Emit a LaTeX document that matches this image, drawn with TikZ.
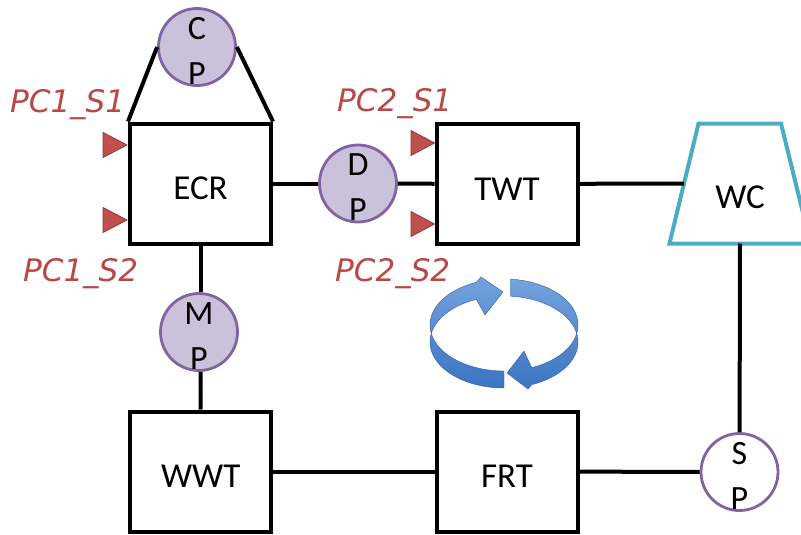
\documentclass[tikz,border=0pt]{standalone}
\usepackage{fontspec}
\setmainfont{Carlito}
\newfontfamily\tagfont{DejaVu Sans}

\definecolor{pumpfill}{HTML}{CCC1DA}
\definecolor{pumpline}{HTML}{8064A2}
\definecolor{sensorred}{HTML}{C0504D}
\definecolor{sensordark}{HTML}{943634}
\definecolor{tagred}{HTML}{B84745}
\definecolor{basin}{HTML}{4BACC6}
\definecolor{cyclelight}{HTML}{74A3DE}
\definecolor{cycledark}{HTML}{3C74C2}

\begin{document}
\begin{tikzpicture}[x=1pt,y=-1pt,
  tank/.style={draw, line width=4pt, minimum width=141pt, minimum height=120pt,
    inner sep=0pt, font=\fontsize{35}{40}\selectfont, text height=32pt, text depth=0pt},
  pump/.style={circle, draw=pumpline, fill=pumpfill, line width=2.8pt,
    minimum size=77pt, inner sep=0pt},
  pumplabel/.style={align=center, font=\fontsize{34}{45}\selectfont, inner sep=0pt},
  pipe/.style={line width=4pt},
  sensor/.style={fill=sensorred, draw=sensordark, line width=0.8pt, line join=round},
  tag/.style={text=tagred, font=\tagfont\itshape\fontsize{31}{36}\selectfont,
    anchor=base west, inner sep=0pt},
  consumer/.style={draw=basin, line width=4pt, line join=miter},
  cycle/.style={top color=cyclelight, bottom color=cycledark, draw=cycledark!80!black, line width=0.4pt},
]
\useasboundingbox (0,0) rectangle (801,535);

% tanks
\node[tank] (ecr) at (200.5,183.5) {ECR};
\node[tank] (twt) at (507,184) {TWT};
\node[tank] (wwt) at (200.7,471.5) {WWT};
\node[tank] (frt) at (507,471.5) {FRT};

% water consumer (trapezoid, partly beyond the right edge)
\draw[consumer] (698.5,123.5) -- (781,123.5) -- (810.5,243.5) -- (669.5,243.5) -- cycle;
\node[font=\fontsize{35}{40}\selectfont, inner sep=0pt, anchor=base] (wc) at (740,208) {WC};
\coordinate (wcin) at (684.2,183.5);
\coordinate (wcout) at (740,243.5);

% pumps
\node[pump] (cp) at (197,47) {};
\node[pumplabel] at ([yshift=-4pt]cp.center) {C\\P};
\node[pump] (dp) at (358,183.5) {};
\node[pumplabel] at ([yshift=-4pt]dp.center) {D\\P};
\node[pump] (mp) at (199,332) {};
\node[pumplabel] at ([yshift=-4pt]mp.center) {M\\P};
\node[pump, fill=white] (sp) at (739.5,472) {};
\node[pumplabel] at ([yshift=-4pt]sp.center) {S\\P};

% pipes
\draw[pipe] (cp.west) -- (ecr.north west);
\draw[pipe] (cp.east) -- (ecr.north east);
\draw[pipe] (ecr) -- (dp);
\draw[pipe] (dp) -- (twt);
\draw[pipe] (twt) -- (wcin);
\draw[pipe] (wcout) -- (sp);
\draw[pipe] (sp) -- (frt);
\draw[pipe] (frt) -- (wwt);
\draw[pipe] (ecr.south) -- (ecr.south |- mp.north);
\draw[pipe] (ecr.south |- mp.south) -- (wwt.north);

% sensor markers
\filldraw[sensor] (103,132.5) -- (127,145) -- (103,157.5) -- cycle;
\filldraw[sensor] (103,207.5) -- (127,220) -- (103,232.5) -- cycle;
\filldraw[sensor] (411,130.5) -- (434.5,143) -- (411,155.5) -- cycle;
\filldraw[sensor] (411,211.5) -- (434.5,224) -- (411,236.5) -- cycle;

% sensor tags
\node[tag] (t11) at (10,112) {PC1\_S1};
\node[tag] (t12) at (23,281) {PC1\_S2};
\node[tag] (t21) at (337,111) {PC2\_S1};
\node[tag] (t22) at (335,281) {PC2\_S2};

% circulation symbol
\path[cycle] plot[domain=270:112, samples=60] ({504+74*cos(\x)},{325-46*sin(\x)})
  -- (481,277) -- (503,292) -- (485,315)
  -- plot[domain=112:270, samples=60] ({504+74*cos(\x)},{342-46*sin(\x)}) -- cycle;
\path[cycle] plot[domain=85:-68, samples=60] ({504+74*cos(\x)},{325-46*sin(\x)})
  -- (524,351) -- (507,373) -- (528,389)
  -- plot[domain=-68:85, samples=60] ({504+74*cos(\x)},{342-46*sin(\x)}) -- cycle;
\end{tikzpicture}
\end{document}
